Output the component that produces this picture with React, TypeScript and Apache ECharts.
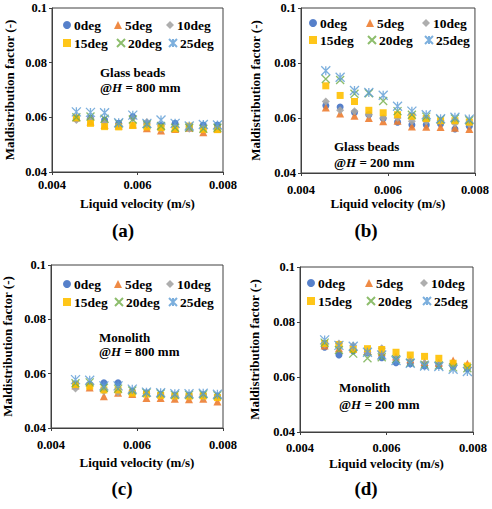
import React, { useEffect, useRef } from "react";
import * as echarts from "echarts";

const SERIES_NAMES = ["0deg", "5deg", "10deg", "15deg", "20deg", "25deg"];
const X_VALUES = [0.00457, 0.0049, 0.00523, 0.00556, 0.00589, 0.00622, 0.00655, 0.00688, 0.00721, 0.00754, 0.00787];
const X_TICKS = [0.004, 0.006, 0.008];
const Y_TICKS = [0.04, 0.06, 0.08, 0.1];

// rows follow SERIES_NAMES order
const PANEL_A = [
  [0.0595, 0.0597, 0.0590, 0.0578, 0.0602, 0.0578, 0.0570, 0.0578, 0.0565, 0.0572, 0.0572],
  [0.0600, 0.0585, 0.0572, 0.0570, 0.0574, 0.0560, 0.0552, 0.0557, 0.0562, 0.0545, 0.0558],
  [0.0590, 0.0595, 0.0582, 0.0570, 0.0598, 0.0583, 0.0558, 0.0565, 0.0558, 0.0562, 0.0560],
  [0.0598, 0.0578, 0.0566, 0.0565, 0.0570, 0.0565, 0.0562, 0.0558, 0.0568, 0.0556, 0.0555],
  [0.0600, 0.0603, 0.0595, 0.0578, 0.0592, 0.0575, 0.0568, 0.0562, 0.0562, 0.0558, 0.0562],
  [0.0620, 0.0618, 0.0617, 0.0580, 0.0608, 0.0578, 0.0590, 0.0578, 0.0568, 0.0574, 0.0572],
];
const PANEL_B = [
  [0.0645, 0.0640, 0.0620, 0.0612, 0.0598, 0.0585, 0.0575, 0.0575, 0.0578, 0.0560, 0.0570],
  [0.0638, 0.0616, 0.0608, 0.0600, 0.0588, 0.0590, 0.0569, 0.0568, 0.0567, 0.0565, 0.0560],
  [0.0660, 0.0628, 0.0625, 0.0612, 0.0600, 0.0600, 0.0588, 0.0588, 0.0590, 0.0580, 0.0578],
  [0.0717, 0.0682, 0.0660, 0.0628, 0.0619, 0.0612, 0.0606, 0.0598, 0.0590, 0.0590, 0.0585],
  [0.0742, 0.0738, 0.0688, 0.0690, 0.0662, 0.0625, 0.0612, 0.0605, 0.0595, 0.0598, 0.0592],
  [0.0772, 0.0748, 0.0700, 0.0693, 0.0683, 0.0643, 0.0625, 0.0612, 0.0597, 0.0603, 0.0596],
];
const PANEL_C = [
  [0.0558, 0.0560, 0.0566, 0.0566, 0.0535, 0.0530, 0.0524, 0.0520, 0.0520, 0.0522, 0.0518],
  [0.0556, 0.0549, 0.0517, 0.0530, 0.0525, 0.0510, 0.0510, 0.0508, 0.0506, 0.0508, 0.0498],
  [0.0545, 0.0560, 0.0535, 0.0532, 0.0530, 0.0526, 0.0520, 0.0517, 0.0517, 0.0515, 0.0512],
  [0.0560, 0.0554, 0.0540, 0.0540, 0.0528, 0.0525, 0.0520, 0.0518, 0.0517, 0.0518, 0.0512],
  [0.0565, 0.0568, 0.0548, 0.0545, 0.0538, 0.0530, 0.0527, 0.0522, 0.0522, 0.0524, 0.0520],
  [0.0578, 0.0576, 0.0555, 0.0555, 0.0543, 0.0532, 0.0530, 0.0526, 0.0526, 0.0528, 0.0524],
];
const PANEL_D = [
  [0.0708, 0.0680, 0.0695, 0.0688, 0.0670, 0.0652, 0.0648, 0.0640, 0.0642, 0.0638, 0.0630],
  [0.0715, 0.0705, 0.0705, 0.0695, 0.0690, 0.0675, 0.0665, 0.0655, 0.0652, 0.0660, 0.0648],
  [0.0718, 0.0722, 0.0715, 0.0690, 0.0705, 0.0670, 0.0660, 0.0650, 0.0648, 0.0640, 0.0635],
  [0.0722, 0.0718, 0.0700, 0.0703, 0.0700, 0.0690, 0.0680, 0.0675, 0.0668, 0.0650, 0.0640],
  [0.0725, 0.0698, 0.0685, 0.0668, 0.0672, 0.0665, 0.0652, 0.0645, 0.0642, 0.0635, 0.0632],
  [0.0735, 0.0715, 0.0712, 0.0690, 0.0680, 0.0660, 0.0650, 0.0640, 0.0638, 0.0628, 0.0620],
];
const PANEL_DATA = [PANEL_A, PANEL_B, PANEL_C, PANEL_D];
const PANEL_MATERIAL = ["Glass beads", "Glass beads", "Monolith", "Monolith"];
const PANEL_HEIGHT_TEXT = ["800 mm", "200 mm", "800 mm", "200 mm"];
const PANEL_LETTERS = ["(a)", "(b)", "(c)", "(d)"];
const X_TITLE = "Liquid velocity (m/s)";
const Y_TITLE = "Maldistribution factor (-)";

const FONT = "'Liberation Serif', 'Times New Roman', serif";
const COLORS = ["#4472C4", "#ED7D31", "#A5A5A5", "#FFC000", "#70AD47", "#5B9BD5"];
const SYMBOLS = [
  "circle",
  "triangle",
  "diamond",
  "rect",
  "path://M0,0L10,10M10,0L0,10",
  "path://M0,0L10,10M10,0L0,10M5,0L5,10",
];
const SYMBOL_SIZES = [7, 8, 8, 7, 8, 9];

const GRIDS = [
  { left: 52, top: 8, width: 171, height: 164 },
  { left: 301, top: 8, width: 174, height: 165 },
  { left: 51, top: 265, width: 172, height: 163 },
  { left: 300, top: 267, width: 173, height: 165 },
];
const X_LABEL_MARGIN = [6, 10, 10, 9];
const X_NAME_GAP = [25, 24, 28, 25];
const Y_NAME_GAP = [36, 39, 37, 39];
// legend marker centres: [row1 y, row2 y], column x for each row
const LEGEND_ROWS = [
  [25, 43],
  [23, 40],
  [284, 302],
  [283, 301],
];
const LEGEND_COLS = [
  [[67, 118, 170], [67, 120, 172]],
  [[313, 370, 426], [313, 371, 428]],
  [[67, 118, 170], [67, 118, 172]],
  [[311, 369, 424], [311, 370, 426]],
];
const NOTE_POS = [
  [100, 73, 88],
  [334, 147, 163],
  [99, 338, 352],
  [339, 388, 405],
];
const LETTER_POS = [
  [123, 230],
  [366, 230],
  [122, 488],
  [366, 488],
];

export default function App() {
  const ref = useRef<HTMLDivElement>(null);
  useEffect(() => {
    if (!ref.current) return;
    const chart = echarts.init(ref.current, undefined, { renderer: "svg" });
    const textBase = { fontFamily: FONT, fontWeight: "bold" as const, color: "#000" };

    const grid = GRIDS.map((g) => ({
      ...g,
      show: true,
      borderColor: "#404040",
      borderWidth: 1,
      backgroundColor: "transparent",
      containLabel: false,
    }));

    const xAxis = GRIDS.map((_, i) => ({
      type: "value" as const,
      gridIndex: i,
      min: X_TICKS[0],
      max: X_TICKS[X_TICKS.length - 1],
      interval: X_TICKS[1] - X_TICKS[0],
      name: X_TITLE,
      nameLocation: "middle" as const,
      nameGap: X_NAME_GAP[i],
      nameTextStyle: { ...textBase, fontSize: 13 },
      axisLine: { show: true, lineStyle: { color: "#404040", width: 1 } },
      axisTick: { show: true, length: 3, lineStyle: { color: "#404040" } },
      splitLine: { show: false },
      axisLabel: {
        ...textBase,
        fontSize: 12.5,
        margin: X_LABEL_MARGIN[i],
        formatter: (v: number) => v.toFixed(3),
      },
    }));

    const yAxis = GRIDS.map((_, i) => ({
      type: "value" as const,
      gridIndex: i,
      min: Y_TICKS[0],
      max: Y_TICKS[Y_TICKS.length - 1],
      interval: Y_TICKS[1] - Y_TICKS[0],
      name: Y_TITLE,
      nameLocation: "middle" as const,
      nameRotate: 90,
      nameGap: Y_NAME_GAP[i],
      nameTextStyle: { ...textBase, fontSize: 13 },
      axisLine: { show: true, lineStyle: { color: "#404040", width: 1 } },
      axisTick: { show: true, length: 3, lineStyle: { color: "#404040" } },
      splitLine: { show: false },
      axisLabel: {
        ...textBase,
        fontSize: 12.5,
        margin: 5,
        formatter: (v: number) => String(Number(v.toFixed(2))),
      },
    }));

    const series: any[] = [];
    PANEL_DATA.forEach((panel, p) => {
      panel.forEach((vals, s) => {
        const isLine = s >= 4;
        series.push({
          type: "scatter",
          name: SERIES_NAMES[s],
          xAxisIndex: p,
          yAxisIndex: p,
          symbol: SYMBOLS[s],
          symbolSize: SYMBOL_SIZES[s],
          data: vals.map((v, k) => [X_VALUES[k], v]),
          itemStyle: isLine
            ? { color: "rgba(0,0,0,0)", borderColor: COLORS[s], borderWidth: 1.3 }
            : { color: COLORS[s], opacity: 0.9 },
          emphasis: { disabled: true },
        });
      });
    });

    const legend: any[] = [];
    GRIDS.forEach((_, p) => {
      SERIES_NAMES.forEach((name, s) => {
        const row = s < 3 ? 0 : 1;
        const col = s % 3;
        const cx = LEGEND_COLS[p][row][col];
        const cy = LEGEND_ROWS[p][row];
        legend.push({
          data: [name],
          left: cx - 4,
          top: cy - 7,
          padding: 0,
          itemGap: 0,
          itemWidth: 8,
          itemHeight: 8,
          selectedMode: false,
          textStyle: { ...textBase, fontSize: 13.5, padding: [0, 0, 0, -2] },
        });
      });
    });

    const graphic: any[] = [];
    GRIDS.forEach((_, p) => {
      const [nx, y1, y2] = NOTE_POS[p];
      graphic.push({
        type: "text",
        left: nx,
        top: y1 - 7,
        style: { text: PANEL_MATERIAL[p], font: `bold 13px ${FONT}`, fill: "#000" },
      });
      graphic.push({
        type: "text",
        left: nx,
        top: y2 - 7,
        style: {
          text: `@{i|H} = ${PANEL_HEIGHT_TEXT[p]}`,
          font: `bold 13px ${FONT}`,
          fill: "#000",
          rich: { i: { fontFamily: FONT, fontWeight: "bold", fontStyle: "italic", fontSize: 13, fill: "#000" } },
        },
      });
      const [lx, ly] = LETTER_POS[p];
      graphic.push({
        type: "text",
        x: lx,
        y: ly,
        style: {
          text: PANEL_LETTERS[p],
          font: `bold 19px ${FONT}`,
          fill: "#000",
          align: "center",
          verticalAlign: "middle",
        },
      });
    });

    chart.setOption({
      animation: false,
      backgroundColor: "#fff",
      grid,
      xAxis,
      yAxis,
      series,
      legend,
      graphic,
    });
    return () => chart.dispose();
  }, []);

  return (
    <div
      ref={ref}
      style={{ position: "absolute", left: 0, top: 0, width: 492, height: 509, background: "#fff" }}
    />
  );
}
